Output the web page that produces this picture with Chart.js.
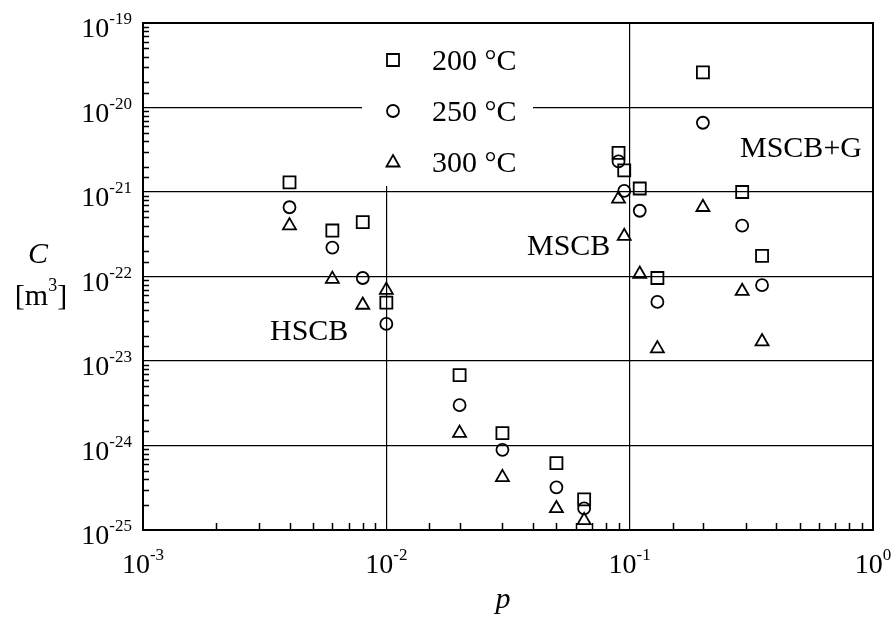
<!DOCTYPE html>
<html>
<head>
<meta charset="utf-8">
<script src="https://cdn.jsdelivr.net/npm/chart.js@4.4.1/dist/chart.umd.min.js"></script>
<style>
  html, body { margin: 0; padding: 0; background: #fff; }
  #wrap { width: 896px; height: 620px; }
</style>
</head>
<body>
<div id="wrap"><canvas id="scatter-chart"></canvas></div>
<script>
// p values (shared by all three temperatures)
const pValues = [0.004, 0.006, 0.008, 0.01, 0.02, 0.03, 0.05, 0.065, 0.09, 0.095, 0.11, 0.13, 0.2, 0.29, 0.35];

// C [m^3]
const c200 = [1.3e-21, 3.5e-22, 4.4e-22, 4.9e-23, 6.8e-24, 1.4e-24, 6.2e-25, 2.3e-25, 2.9e-21, 1.8e-21, 1.1e-21, 9.6e-23, 2.6e-20, 1.0e-21, 1.75e-22];
const c250 = [6.6e-22, 2.2e-22, 9.6e-23, 2.75e-23, 3.0e-24, 8.9e-25, 3.2e-25, 1.8e-25, 2.3e-21, 1.03e-21, 6.0e-22, 5.0e-23, 6.6e-21, 4.0e-22, 7.9e-23];
const c300 = [4.0e-22, 9.3e-23, 4.6e-23, 6.9e-23, 1.4e-24, 4.2e-25, 1.8e-25, 1.3e-25, 8.3e-22, 3.0e-22, 1.07e-22, 1.4e-23, 6.6e-22, 6.7e-23, 1.7e-23];

const seriesLabels = ['200 °C', '250 °C', '300 °C'];
const seriesShapes = ['rect', 'circle', 'triangle'];
const regionLabels = ['HSCB', 'MSCB', 'MSCB+G'];

const xMin = 1e-3, xMax = 1;
const yMin = 1e-25, yMax = 1e-19;

document.addEventListener("DOMContentLoaded", function() {

  const serif = '"Liberation Serif", "Times New Roman", serif';
  const canvas = document.getElementById('scatter-chart');

  function isDecade(v) {
    const e = Math.log10(v);
    return Math.abs(e - Math.round(e)) < 1e-6;
  }

  // log scale can repeat min/max in its tick list
  function decades(scale) {
    const seen = new Set();
    return scale.ticks.filter(t => isDecade(t.value)).map(t => Math.round(Math.log10(t.value)))
      .filter(e => { if (seen.has(e)) return false; seen.add(e); return true; });
  }

  function toPoints(ys) {
    return pValues.map((p, i) => ({ x: p, y: ys[i] }));
  }

  function marker(ctx, shape, x, y) {
    ctx.beginPath();
    if (shape === 'rect') {
      ctx.rect(x - 6, y - 6, 12, 12);
    } else if (shape === 'circle') {
      ctx.arc(x, y, 6, 0, Math.PI * 2);
    } else {
      ctx.moveTo(x, y - 7);
      ctx.lineTo(x + 6.5, y + 4.5);
      ctx.lineTo(x - 6.5, y + 4.5);
      ctx.closePath();
    }
    ctx.stroke();
  }

  // 10 with exponent; align = 'center' (x axis) or 'right' (y axis)
  function powerLabel(ctx, exp, x, y, align) {
    ctx.font = '28px ' + serif;
    const wBase = ctx.measureText('10').width;
    ctx.font = '17px ' + serif;
    const wExp = ctx.measureText(String(exp)).width;
    let left = align === 'center' ? x - (wBase + wExp) / 2 : x - wBase - wExp;
    ctx.textAlign = 'left';
    ctx.textBaseline = 'alphabetic';
    ctx.font = '28px ' + serif;
    ctx.fillText('10', left, y);
    ctx.font = '17px ' + serif;
    ctx.fillText(String(exp), left + wBase, y - 13);
  }

  const decor = {
    id: 'decor',
    beforeDatasetsDraw(chart) {
      const { ctx, chartArea: a } = chart;
      ctx.save();
      // legend box covers the grid lines behind it
      ctx.fillStyle = '#fff';
      ctx.fillRect(362, a.top + 1, 171, 162);
      ctx.strokeStyle = '#000';
      ctx.fillStyle = '#000';
      ctx.lineWidth = 1.8;
      seriesLabels.forEach((lab, i) => {
        const yy = 60 + i * 51;
        marker(ctx, seriesShapes[i], 393, yy);
        ctx.font = '30px ' + serif;
        ctx.textAlign = 'left';
        ctx.textBaseline = 'alphabetic';
        ctx.fillText(lab, 432, yy + 10);
      });
      ctx.restore();
    },
    afterDraw(chart) {
      const { ctx, chartArea: a, scales: { x, y } } = chart;
      ctx.save();
      ctx.strokeStyle = '#000';
      ctx.lineWidth = 2;
      ctx.strokeRect(a.left, a.top, a.right - a.left, a.bottom - a.top);

      // inward minor ticks
      ctx.lineWidth = 1.5;
      ctx.beginPath();
      y.ticks.forEach(t => {
        if (isDecade(t.value)) return;
        const py = Math.round(y.getPixelForValue(t.value)) + 0.5;
        ctx.moveTo(a.left, py);
        ctx.lineTo(a.left + 6, py);
      });
      x.ticks.forEach(t => {
        if (isDecade(t.value)) return;
        const px = Math.round(x.getPixelForValue(t.value)) + 0.5;
        ctx.moveTo(px, a.bottom);
        ctx.lineTo(px, a.bottom - 7);
      });
      ctx.stroke();

      ctx.fillStyle = '#000';
      decades(y).forEach(e => {
        const py = y.getPixelForValue(Math.pow(10, e));
        powerLabel(ctx, e, 132, py + 14, 'right');
      });
      decades(x).forEach(e => {
        const px = x.getPixelForValue(Math.pow(10, e));
        powerLabel(ctx, e, px, 573, 'center');
      });

      // region labels
      ctx.font = '30px ' + serif;
      ctx.textAlign = 'left';
      ctx.textBaseline = 'alphabetic';
      ctx.fillText(regionLabels[0], 270, 340);
      ctx.fillText(regionLabels[1], 527, 255);
      ctx.fillText(regionLabels[2], 740, 157);

      // axis titles
      ctx.font = 'italic 30px ' + serif;
      ctx.textAlign = 'center';
      ctx.fillText('p', 503, 608);
      ctx.fillText('C', 38, 263);
      ctx.font = '30px ' + serif;
      ctx.textAlign = 'left';
      const wm = ctx.measureText('[m').width;
      ctx.font = '18px ' + serif;
      const w3 = ctx.measureText('3').width;
      ctx.font = '30px ' + serif;
      const wb = ctx.measureText(']').width;
      const x0 = 41 - (wm + w3 + wb) / 2;
      ctx.fillText('[m', x0, 305);
      ctx.fillText(']', x0 + wm + w3, 305);
      ctx.font = '18px ' + serif;
      ctx.fillText('3', x0 + wm, 291);
      ctx.restore();
    }
  };

  const sets = [c200, c250, c300].map((ys, i) => ({
    label: seriesLabels[i],
    data: toPoints(ys),
    pointStyle: seriesShapes[i],
    pointRadius: i === 0 ? 8.5 : (i === 1 ? 6 : 7.5),
    pointBorderWidth: 1.8,
    borderColor: '#000',
    backgroundColor: 'rgba(0,0,0,0)',
    showLine: false
  }));

  const gridColor = ctx => (ctx.tick && isDecade(ctx.tick.value)) ? '#000' : 'rgba(0,0,0,0)';

  new Chart(canvas, {
    type: 'scatter',
    data: { datasets: sets },
    options: {
      responsive: true,
      maintainAspectRatio: false,
      animation: false,
      layout: { padding: { left: 0, right: 23, top: 23, bottom: 0 } },
      plugins: {
        legend: { display: false },
        tooltip: { enabled: false }
      },
      scales: {
        x: {
          type: 'logarithmic',
          min: xMin,
          max: xMax,
          afterFit: s => { s.height = 90; },
          ticks: { display: false, autoSkip: false },
          grid: { color: gridColor, lineWidth: 1.2, drawTicks: false },
          border: { display: false }
        },
        y: {
          type: 'logarithmic',
          min: yMin,
          max: yMax,
          afterFit: s => { s.width = 143; },
          ticks: { display: false, autoSkip: false },
          grid: { color: gridColor, lineWidth: 1.2, drawTicks: false },
          border: { display: false }
        }
      }
    },
    plugins: [decor]
  });

});
</script>
</body>
</html>
